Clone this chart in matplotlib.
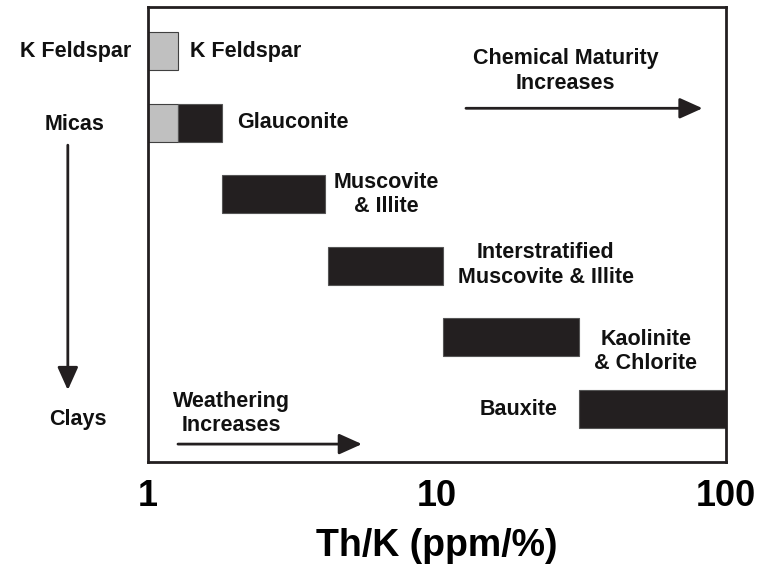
import matplotlib.pyplot as plt
from matplotlib.patches import FancyArrowPatch

# data: Th/K ranges per mineral (rows top -> bottom)
minerals = ['K Feldspar', 'Glauconite', 'Muscovite & Illite',
            'Interstratified Muscovite & Illite', 'Kaolinite & Chlorite', 'Bauxite']
gray_start = [1.0, 1.0, None, None, None, None]
gray_end = [1.27, 1.27, None, None, None, None]
black_start = [None, 1.27, 1.8, 4.2, 10.5, 31]
black_end = [None, 1.8, 4.1, 10.5, 31, 100]
tick_vals = [1, 10, 100]
tick_labels = ['1', '10', '100']

plt.rcParams['font.family'] = ['Liberation Sans', 'DejaVu Sans']

fig = plt.figure(figsize=(7.62, 5.67), dpi=100)
ax = fig.add_axes([0.1942, 0.1852, 0.7585, 0.8025])
ax.set_xscale('log')
ax.set_xlim(1, 100)
ax.set_ylim(5.74, -0.615)

h = 0.53
for i in range(len(minerals)):
    if gray_start[i] is not None:
        ax.barh(i, gray_end[i] - gray_start[i], left=gray_start[i], height=h,
                color='#c0c0c0', edgecolor='#404040', linewidth=0.8, zorder=2)
    if black_start[i] is not None:
        ax.barh(i, black_end[i] - black_start[i], left=black_start[i], height=h,
                color='#231f20', edgecolor='#555555', linewidth=0.8, zorder=2)

fs = 15.5
tkw = dict(fontsize=fs, fontweight='bold', color='#111111')
ax.text(1.40, 0, 'K Feldspar', ha='left', va='center', **tkw)
ax.text(2.03, 1, 'Glauconite', ha='left', va='center', **tkw)
ax.text(6.7, 2.0, 'Muscovite\n& Illite', ha='center', va='center', **tkw)
ax.text(23.8, 2.99, 'Interstratified\nMuscovite & Illite', ha='center', va='center', **tkw)
ax.text(52.8, 4.2, 'Kaolinite\n& Chlorite', ha='center', va='center', **tkw)
ax.text(19.1, 5.0, 'Bauxite', ha='center', va='center', **tkw)
ax.text(27.9, 0.28, 'Chemical Maturity\nIncreases', ha='center', va='center', **tkw)
ax.text(1.95, 5.06, 'Weathering\nIncreases', ha='center', va='center', **tkw)

astyle = '-|>,head_length=1.0,head_width=0.45'
akw = dict(arrowstyle=astyle, color='#231f20', lw=2, mutation_scale=14, shrinkA=0, shrinkB=0)
ax.annotate('', xy=(83, 0.80), xytext=(12.6, 0.80), arrowprops=akw)
ax.annotate('', xy=(5.5, 5.49), xytext=(1.27, 5.49), arrowprops=akw)

# left side labels
fig.text(0.0997, 0.910, 'K Feldspar', ha='center', va='center', **tkw)
fig.text(0.098, 0.781, 'Micas', ha='center', va='center', **tkw)
fig.text(0.102, 0.261, 'Clays', ha='center', va='center', **tkw)
fig.add_artist(FancyArrowPatch((0.089, 0.744), (0.089, 0.312), transform=fig.transFigure,
                               arrowstyle=astyle, color='#231f20', lw=2, mutation_scale=14,
                               shrinkA=0, shrinkB=0))

for s in ax.spines.values():
    s.set_linewidth(2)
    s.set_color('#231f20')
ax.set_yticks([])
ax.xaxis.set_minor_locator(plt.NullLocator())
ax.set_xticks(tick_vals)
ax.set_xticklabels(tick_labels, fontsize=26, fontweight='bold')
ax.tick_params(axis='x', length=0, pad=12)
ax.set_xlabel('Th/K (ppm/%)', fontsize=27, fontweight='bold', labelpad=10)

fig.savefig('out.png', dpi=100)
